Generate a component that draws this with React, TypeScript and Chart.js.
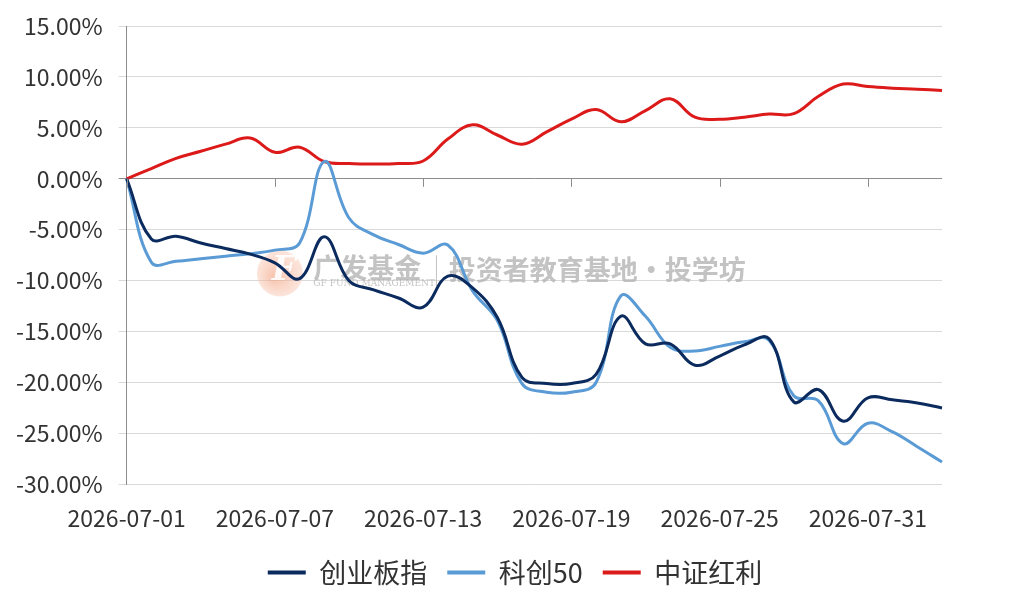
import React, { useEffect, useRef } from 'react';
import { Chart, registerables } from 'chart.js';

Chart.register(...registerables);

const dates = [
  '2026-07-01', '2026-07-02', '2026-07-03', '2026-07-04', '2026-07-05', '2026-07-06',
  '2026-07-07', '2026-07-08', '2026-07-09', '2026-07-10', '2026-07-11', '2026-07-12',
  '2026-07-13', '2026-07-14', '2026-07-15', '2026-07-16', '2026-07-17', '2026-07-18',
  '2026-07-19', '2026-07-20', '2026-07-21', '2026-07-22', '2026-07-23', '2026-07-24',
  '2026-07-25', '2026-07-26', '2026-07-27', '2026-07-28', '2026-07-29', '2026-07-30',
  '2026-07-31', '2026-08-01', '2026-08-02', '2026-08-03',
];

const tickLabels = ['2026-07-01', '2026-07-07', '2026-07-13', '2026-07-19', '2026-07-25', '2026-07-31'];

// 创业板指
const chinext = [
  0, -5.9, -5.65, -6.3, -6.85, -7.4, -8.25, -9.8, -5.7, -10.0, -10.9, -11.7,
  -12.6, -9.55, -10.7, -13.6, -19.5, -20.1, -20.1, -19.2, -13.5, -16.2, -16.2, -18.3,
  -17.4, -16.3, -15.7, -21.9, -20.7, -23.8, -21.5, -21.7, -22.0, -22.5,
];

// 科创50
const star50 = [
  0, -8.2, -8.1, -7.85, -7.6, -7.35, -7.0, -6.3, 1.7, -3.85, -5.5, -6.45,
  -7.3, -6.5, -11.0, -13.9, -20.1, -20.95, -20.95, -20.0, -11.5, -13.5, -16.55, -16.9,
  -16.45, -16.0, -15.85, -21.3, -21.8, -26.0, -24.0, -24.85, -26.3, -27.8,
];

// 中证红利
const dividend = [
  0, 1.0, 2.0, 2.7, 3.4, 4.0, 2.6, 3.1, 1.7, 1.5, 1.45, 1.5,
  1.75, 3.9, 5.3, 4.3, 3.4, 4.6, 5.85, 6.8, 5.6, 6.7, 7.85, 6.05,
  5.85, 6.05, 6.35, 6.4, 8.1, 9.3, 9.05, 8.9, 8.8, 8.67,
];

const FONT = '"Noto Sans CJK SC", "Noto Sans", sans-serif';

// small tick marks hanging below the 0% line, under each date label
const zeroTicks = {
  id: 'zeroTicks',
  afterDatasetsDraw(chart: any) {
    const { ctx } = chart;
    const x = chart.scales.x;
    const y0 = chart.scales.y.getPixelForValue(0);
    ctx.save();
    ctx.strokeStyle = '#8c8c8c';
    ctx.lineWidth = 1;
    tickLabels.forEach((d) => {
      const px = Math.round(x.getPixelForValue(dates.indexOf(d))) + 0.5;
      ctx.beginPath();
      ctx.moveTo(px, y0);
      ctx.lineTo(px, y0 + 8);
      ctx.stroke();
    });
    ctx.restore();
  },
};

// nudge the legend up and to the page centre
const legendShift = {
  id: 'legendShift',
  afterLayout(chart: any) {
    const lg = chart.legend;
    if (!lg) return;
    lg.top -= 13;
    lg.bottom -= 13;
    lg.left += 44;
    lg.right += 44;
  },
};

const watermark = {
  id: 'watermark',
  beforeDatasetsDraw(chart: any) {
    const { ctx, chartArea: a } = chart;
    const w = a.right - a.left;
    const h = a.bottom - a.top;
    const fx = (f: number) => a.left + w * f;
    const fy = (f: number) => a.top + h * f;
    ctx.save();
    // logo
    const lx = fx(0.188);
    const ly = fy(0.54);
    const g = ctx.createRadialGradient(lx - 6, ly + 4, 2, lx, ly, 24);
    g.addColorStop(0, 'rgba(242,160,125,0.6)');
    g.addColorStop(1, 'rgba(248,200,180,0.45)');
    ctx.fillStyle = g;
    ctx.beginPath();
    ctx.arc(lx, ly, 23, 0, Math.PI * 2);
    ctx.fill();
    ctx.fillStyle = 'rgba(255,255,255,0.9)';
    ctx.font = 'italic bold 34px "DejaVu Serif", serif';
    ctx.textAlign = 'center';
    ctx.textBaseline = 'middle';
    ctx.fillText('F', lx + 4, ly - 2);
    // texts
    ctx.fillStyle = 'rgba(180,180,180,0.8)';
    ctx.textAlign = 'left';
    ctx.font = `bold 27px ${FONT}`;
    ctx.fillText('广发基金', fx(0.229), fy(0.527));
    ctx.fillText('投资者教育基地·投学坊', fx(0.395), fy(0.532));
    ctx.font = '9px "DejaVu Serif", serif';
    ctx.fillText('GF FUND MANAGEMENT', fx(0.229), fy(0.563));
    ctx.strokeStyle = 'rgba(180,180,180,0.8)';
    ctx.lineWidth = 1;
    ctx.beginPath();
    ctx.moveTo(fx(0.38), fy(0.5));
    ctx.lineTo(fx(0.38), fy(0.568));
    ctx.stroke();
    ctx.restore();
  },
};

const App: React.FC = () => {
  const canvasRef = useRef<HTMLCanvasElement>(null);

  useEffect(() => {
    document.body.style.margin = '0';
    if (!canvasRef.current) return;
    const chart = new Chart(canvasRef.current, {
      type: 'line',
      data: {
        labels: dates,
        datasets: [
          { label: '创业板指', data: chinext, borderColor: '#0b2a5e', backgroundColor: '#0b2a5e' },
          { label: '科创50', data: star50, borderColor: '#5b9bd5', backgroundColor: '#5b9bd5' },
          { label: '中证红利', data: dividend, borderColor: '#dc1a1a', backgroundColor: '#dc1a1a' },
        ],
      },
      options: {
        animation: false,
        responsive: false,
        maintainAspectRatio: false,
        elements: {
          line: { borderWidth: 3, tension: 0.4 },
          point: { radius: 0, hoverRadius: 0 },
        },
        layout: { padding: { left: 0, right: 82, top: 0, bottom: 3 } },
        scales: {
          x: {
            offset: false,
            grid: { display: false, drawTicks: false },
            border: { display: false },
            ticks: {
              autoSkip: false,
              maxRotation: 0,
              padding: 20,
              color: '#333',
              font: { family: FONT, size: 23 },
              callback: (_v: any, i: number) => (tickLabels.includes(dates[i]) ? dates[i] : ''),
            },
          },
          y: {
            min: -30,
            max: 15,
            afterFit: (s: any) => {
              s.paddingTop = 26;
            },
            grid: {
              color: (c: any) => (c.tick && c.tick.value === 0 ? '#8c8c8c' : '#d9d9d9'),
              tickLength: 8,
            },
            border: { display: true, color: '#8c8c8c' },
            ticks: {
              stepSize: 5,
              padding: 16,
              color: '#333',
              font: { family: FONT, size: 23 },
              callback: (v: any) => Number(v).toFixed(2) + '%',
            },
          },
        },
        plugins: {
          legend: {
            position: 'bottom',
            labels: {
              usePointStyle: true,
              pointStyle: 'line',
              pointStyleWidth: 38,
              padding: 20,
              color: '#333',
              font: { family: FONT, size: 27 },
              generateLabels: (c: any) =>
                Chart.defaults.plugins.legend.labels.generateLabels(c).map((l: any) => ({
                  ...l,
                  lineWidth: 4,
                  pointStyle: 'line',
                })),
            },
          },
          tooltip: { enabled: false },
        },
      },
      plugins: [watermark, zeroTicks, legendShift],
    });
    return () => {
      chart.destroy();
    };
  }, []);

  return <canvas ref={canvasRef} width={1024} height={612} style={{ display: 'block' }} />;
};

export default App;
